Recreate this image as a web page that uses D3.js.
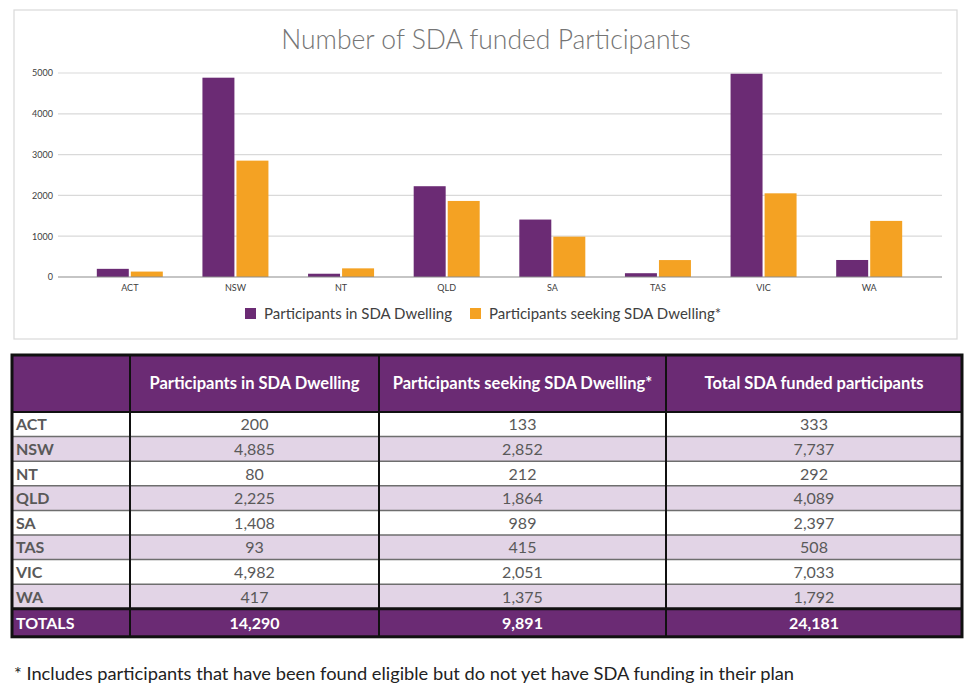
<!DOCTYPE html>
<html><head><meta charset="utf-8">
<script src="https://cdn.jsdelivr.net/npm/d3@7"></script>
<style>body{margin:0;background:#fff;}svg{display:block;font-family:Lato,"Open Sans",sans-serif;}</style>
</head><body><svg id="c" width="980" height="690"></svg>
<script>
const categories = ["ACT","NSW","NT","QLD","SA","TAS","VIC","WA"];
const inDwelling = [200,4885,80,2225,1408,93,4982,417];
const seeking = [133,2852,212,1864,989,415,2051,1375];
const totalFunded = [333,7737,292,4089,2397,508,7033,1792];
const totalsRow = ["TOTALS","14,290","9,891","24,181"];
const seriesNames = ["Participants in SDA Dwelling","Participants seeking SDA Dwelling*"];
const headers = ["","Participants in SDA Dwelling","Participants seeking SDA Dwelling*","Total SDA funded participants"];
const yTicks = [0,1000,2000,3000,4000,5000];
const title = "Number of SDA funded Participants";
const footnote = "* Includes participants that have been found eligible but do not yet have SDA funding in their plan";

const PURPLE="#6b2b74", ORANGE="#f4a223", LILAC="#e2d4e6", TXT="#595959";
const svg=d3.select("#c");

// chart box
svg.append("rect").attr("x",14).attr("y",10).attr("width",943).attr("height",329)
  .attr("fill","#fff").attr("stroke","#d9d9d9").attr("stroke-width",1.2);
svg.append("text").attr("x",486).attr("y",49).attr("text-anchor","middle")
  .attr("font-size",26.5).attr("fill","#757575").attr("font-weight",300).text(title);

const y=d3.scaleLinear().domain([0,5000]).range([277,73]);
const x0=d3.scaleBand().domain(categories).range([77,922]);
const x1=d3.scaleBand().domain([0,1]).range([x0.bandwidth()/2-33,x0.bandwidth()/2+33]).paddingInner(0.06);

// gridlines
svg.append("g").selectAll("line").data(yTicks.filter(d=>d>0)).join("line")
  .attr("x1",58).attr("x2",942).attr("y1",d=>y(d)).attr("y2",d=>y(d))
  .attr("stroke","#d9d9d9").attr("stroke-width",1.2);
const yAxis=svg.append("g").attr("transform","translate(58,0)")
  .call(d3.axisLeft(y).tickValues(yTicks).tickSize(0).tickPadding(5).tickFormat(d3.format("d")));
yAxis.select(".domain").remove();
yAxis.selectAll("text").attr("font-size",9).attr("fill","#404040").attr("font-family","Lato,sans-serif");

// bars
const series=[inDwelling,seeking], colors=[PURPLE,ORANGE];
const groups=svg.append("g").selectAll("g").data(categories).join("g")
  .attr("transform",d=>`translate(${x0(d)},0)`);
groups.selectAll("rect").data((d,i)=>[0,1].map(s=>({s,v:series[s][i]}))).join("rect")
  .attr("x",d=>x1(d.s)).attr("width",x1.bandwidth())
  .attr("y",d=>y(d.v)).attr("height",d=>y(0)-y(d.v)).attr("fill",d=>colors[d.s]);

// x axis
svg.append("line").attr("x1",58).attr("x2",942).attr("y1",y(0)).attr("y2",y(0))
  .attr("stroke","#8c8c8c").attr("stroke-width",1.2);
const xAxis=svg.append("g").attr("transform",`translate(0,${y(0)})`)
  .call(d3.axisBottom(x0).tickSize(0).tickPadding(8));
xAxis.select(".domain").remove();
xAxis.selectAll("text").attr("font-size",9).attr("fill","#404040").attr("font-family","Lato,sans-serif");

// legend
const legX=[245,470];
const leg=svg.append("g").selectAll("g").data(seriesNames).join("g")
  .attr("transform",(d,i)=>`translate(${legX[i]},308)`);
leg.append("rect").attr("width",11).attr("height",11).attr("fill",(d,i)=>colors[i]);
leg.append("text").attr("x",19).attr("y",10.5).attr("font-size",15).attr("fill","#404040").text(d=>d);

// table
const colX=[12,130,379,666,962];
const headTop=355, headH=57, rowH=24.6, totH=28;
const bodyTop=headTop+headH;
const rows=categories.map((c,i)=>[c,d3.format(",")(inDwelling[i]),d3.format(",")(seeking[i]),d3.format(",")(totalFunded[i])]);
const totTop=bodyTop+rowH*rows.length;
const T=svg.append("g");
T.append("rect").attr("x",colX[0]).attr("y",headTop).attr("width",colX[4]-colX[0]).attr("height",headH).attr("fill",PURPLE);
T.selectAll("rect.row").data(rows).join("rect").attr("class","row")
  .attr("x",colX[0]).attr("y",(d,i)=>bodyTop+i*rowH).attr("width",colX[4]-colX[0]).attr("height",rowH)
  .attr("fill",(d,i)=>i%2?LILAC:"#fff");
T.append("rect").attr("x",colX[0]).attr("y",totTop).attr("width",colX[4]-colX[0]).attr("height",totH).attr("fill",PURPLE);
// row separators
T.selectAll("line.rs").data(d3.range(1,rows.length)).join("line").attr("class","rs")
  .attr("x1",colX[0]).attr("x2",colX[4]).attr("y1",i=>bodyTop+i*rowH).attr("y2",i=>bodyTop+i*rowH)
  .attr("stroke","#6e6e6e").attr("stroke-width",1.5);
// header text
T.selectAll("text.h").data(headers).join("text").attr("class","h")
  .attr("x",(d,i)=>(colX[i]+colX[i+1])/2).attr("y",headTop+headH/2+5.5).attr("text-anchor","middle")
  .attr("font-size",16.5).attr("font-weight",700).attr("fill","#fff").text(d=>d);
// body text
rows.forEach((r,ri)=>{
  r.forEach((v,ci)=>{
    T.append("text").attr("x",ci===0?16:(colX[ci]+colX[ci+1])/2).attr("y",bodyTop+ri*rowH+rowH/2+6)
      .attr("text-anchor",ci===0?"start":"middle").attr("font-size",16)
      .attr("font-weight",ci===0?700:400).attr("fill",TXT).text(v);
  });
});
totalsRow.forEach((v,ci)=>{
  T.append("text").attr("x",ci===0?16:(colX[ci]+colX[ci+1])/2).attr("y",totTop+totH/2+6)
    .attr("text-anchor",ci===0?"start":"middle").attr("font-size",16).attr("font-weight",700)
    .attr("fill","#fff").text(v);
});
// heavy borders
T.selectAll("line.cv").data([1,2,3]).join("line").attr("class","cv")
  .attr("x1",i=>colX[i]).attr("x2",i=>colX[i]).attr("y1",headTop).attr("y2",totTop+totH)
  .attr("stroke","#111").attr("stroke-width",2);
T.append("line").attr("x1",colX[0]).attr("x2",colX[4]).attr("y1",bodyTop).attr("y2",bodyTop).attr("stroke","#111").attr("stroke-width",2);
T.append("line").attr("x1",colX[0]).attr("x2",colX[4]).attr("y1",totTop).attr("y2",totTop).attr("stroke","#111").attr("stroke-width",3);
T.append("rect").attr("x",colX[0]).attr("y",headTop).attr("width",colX[4]-colX[0]).attr("height",totTop+totH-headTop)
  .attr("fill","none").attr("stroke","#111").attr("stroke-width",3);

svg.append("text").attr("x",14).attr("y",680).attr("font-size",17.5).attr("fill","#222")
  .attr("textLength",780).attr("lengthAdjust","spacingAndGlyphs").text(footnote);
</script></body></html>
